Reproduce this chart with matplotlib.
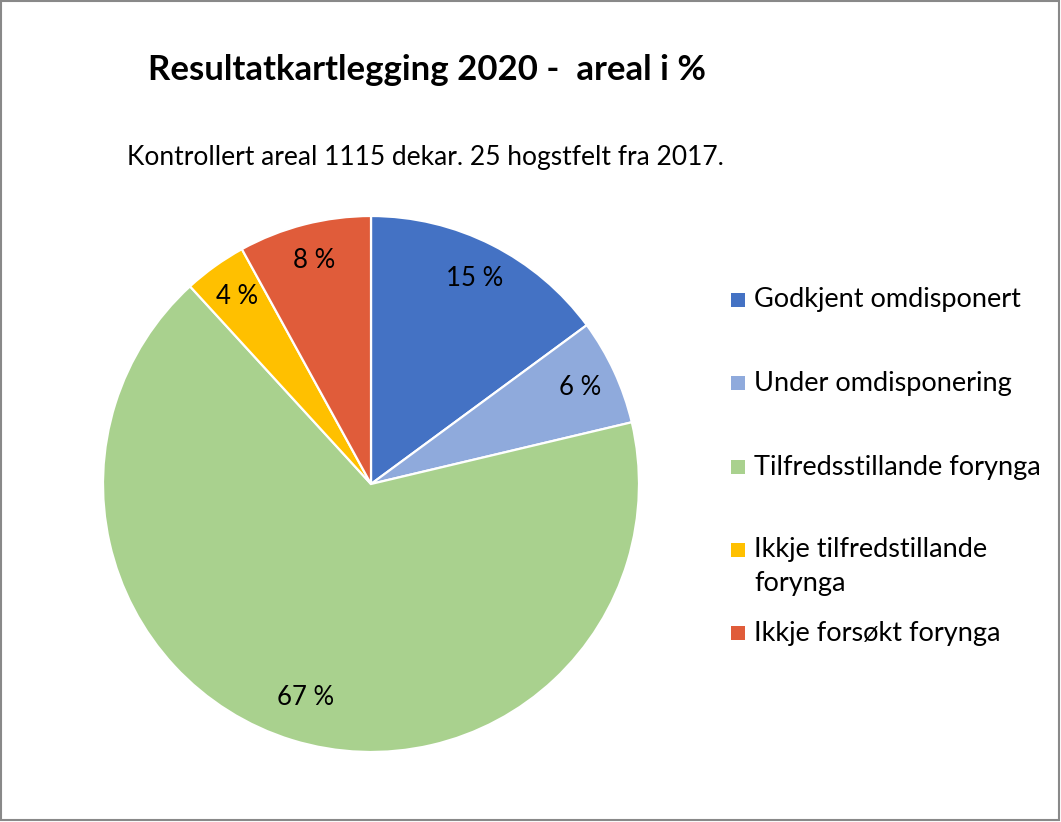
import matplotlib.pyplot as plt
from matplotlib.patches import Rectangle

W, H = 1061, 822

title = "Resultatkartlegging 2020 -  areal i %"
subtitle = "Kontrollert areal 1115 dekar. 25 hogstfelt fra 2017."

categories = ["Godkjent omdisponert", "Under omdisponering", "Tilfredsstillande forynga",
              "Ikkje tilfredstillande\nforynga", "Ikkje forsøkt forynga"]
shares = [14.9, 6.4, 66.9, 3.8, 8.0]
colors = ["#4472C4", "#8FAADC", "#A9D18E", "#FFC000", "#E05C3A"]

BODY = ["Lato", "DejaVu Sans"]


def px(x, y):
    # pixel position (from top-left) -> figure fraction
    return x / W, 1 - y / H


fig = plt.figure(figsize=(W / 100, H / 100), dpi=100)

# pie: centre (371, 484), radius 268 px
cx, cy, r = 371, 484, 268
ax = fig.add_axes([(cx - r) / W, (H - cy - r) / H, 2 * r / W, 2 * r / H])
wedges, _, autotexts = ax.pie(shares, colors=colors, startangle=90, counterclock=False,
                              autopct=lambda p: "{:.0f} %".format(p), pctdistance=0.86,
                              wedgeprops=dict(edgecolor="white", linewidth=1.6),
                              textprops=dict(fontsize=18.5, family=BODY, color="black"))
autotexts[2].set_position((autotexts[2].get_position()[0] * 0.97,
                           autotexts[2].get_position()[1] * 0.97))
ax.set_xlim(-1, 1)
ax.set_ylim(-1, 1)

fig.text(*px(427, 70), title, ha="center", va="center", fontsize=25,
         fontweight="bold", family=BODY)
fig.text(*px(425, 157), subtitle, ha="center", va="center", fontsize=19, family=BODY)

# legend, drawn by hand to get Excel spacing
leg_y = [300, 383, 467, 550, 633]
for label, col, y in zip(categories, colors, leg_y):
    fig.patches.append(Rectangle(px(731, y + 7), 14 / W, 14 / H, facecolor=col,
                                 edgecolor="none", transform=fig.transFigure, figure=fig))
    for i, line in enumerate(label.split("\n")):
        fig.text(*px(754, y + 33 * i), line, ha="left", va="center", fontsize=19.5, family=BODY)

fig.patches.append(Rectangle(px(1, 820), 1058 / W, 819 / H, facecolor="none",
                             edgecolor="#898989", linewidth=1.5,
                             transform=fig.transFigure, figure=fig))

fig.savefig("out.png", dpi=100)
